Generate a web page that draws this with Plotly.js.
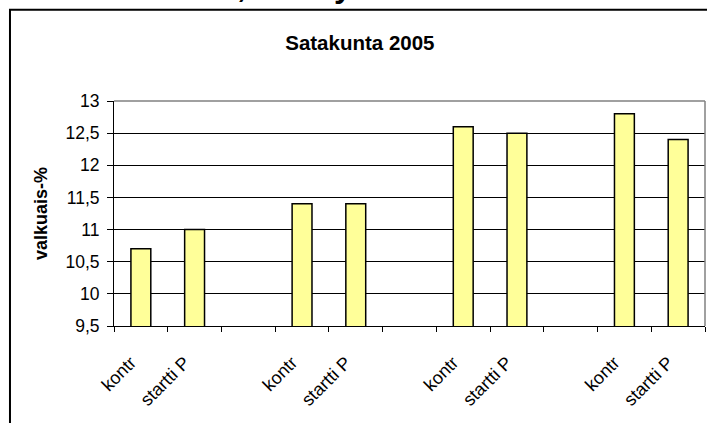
<!DOCTYPE html>
<html>
<head>
<meta charset="utf-8">
<script src="https://cdn.plot.ly/plotly-3.0.1.min.js"></script>
<style>html,body{margin:0;padding:0;background:#fff;}#chart{width:707px;height:423px;}</style>
</head>
<body>
<div id="chart"></div>
<script>
// Category slots (blank slots separate the groups)
var categories = ["kontr", "startti P", " ", "kontr ", "startti P ", "  ", "kontr  ", "startti P  ", "   ", "kontr   ", "startti P   "];
var values = [10.7, 11.0, null, 11.4, 11.4, null, 12.6, 12.5, null, 12.8, 12.4];
var tickLabels = ["kontr", "startti P", "", "kontr", "startti P", "", "kontr", "startti P", "", "kontr", "startti P"];
var yTicks = [9.5, 10, 10.5, 11, 11.5, 12, 12.5, 13];
var chartTitle = "Satakunta 2005";
var yTitle = "valkuais-%";

var trace = {
  type: "bar",
  x: categories,
  y: values,
  width: 0.37,
  marker: {color: "#FFFF99", line: {color: "#000000", width: 1.5}},
  hoverinfo: "skip"
};

var layout = {
  width: 707, height: 423,
  margin: {l: 114, r: 2, t: 101, b: 97},
  paper_bgcolor: "#ffffff",
  plot_bgcolor: "#ffffff",
  separators: ", ",
  showlegend: false,
  font: {family: "Liberation Sans, Arial, sans-serif", color: "#000"},
  title: {
    text: "<b>" + chartTitle + "</b>",
    font: {size: 20.5, family: "Liberation Sans, Arial, sans-serif", color: "#000"},
    xref: "container", x: 0.509, xanchor: "center",
    yref: "container", y: 0.898, yanchor: "middle"
  },
  xaxis: {
    type: "category",
    tickmode: "array",
    tickvals: categories,
    ticktext: tickLabels,
    tickangle: -45,
    tickson: "boundaries",
    ticks: "outside", ticklen: 5, tickcolor: "#000", tickwidth: 1,
    tickfont: {size: 18, color: "#000"},
    ticklabelstandoff: 18,
    ticklabelshift: -10,
    showline: true, linecolor: "#000", linewidth: 1,
    showgrid: false,
    range: [-0.5, 10.5],
    fixedrange: true
  },
  yaxis: {
    range: [9.5, 13],
    tickmode: "array",
    tickvals: yTicks,
    ticks: "outside", ticklen: 6, tickcolor: "#000",
    tickfont: {size: 17.5, color: "#000"},
    ticklabelstandoff: 4,
    showline: true, linecolor: "#000", linewidth: 1,
    showgrid: true, gridcolor: "#000", gridwidth: 1,
    zeroline: false,
    title: {text: "<b>" + yTitle + "</b>", font: {size: 18, color: "#000"}, standoff: 13},
    fixedrange: true
  },
  shapes: [
    {type: "line", xref: "paper", yref: "paper", x0: 0, x1: 1, y0: 1, y1: 1, line: {color: "#808080", width: 1.5}, layer: "above"},
    {type: "line", xref: "paper", yref: "paper", x0: 1, x1: 1, y0: 0, y1: 1, line: {color: "#808080", width: 1.5}, layer: "above"},
    {type: "rect", xref: "paper", yref: "paper", x0: -0.176, x1: 1.2, y0: -1, y1: 1.406, line: {color: "#000", width: 2}, fillcolor: "rgba(0,0,0,0)", layer: "above"}
  ],
  annotations: [
    {xref: "paper", yref: "paper", x: (241 - 114) / 591, y: 1.422, xanchor: "center", yanchor: "bottom", text: "<b>,</b>", showarrow: false, font: {size: 32, color: "#000"}},
    {xref: "paper", yref: "paper", x: (343 - 114) / 591, y: 1.422, xanchor: "center", yanchor: "bottom", text: "<b>y</b>", showarrow: false, font: {size: 32, color: "#000"}}
  ]
};

Plotly.newPlot("chart", [trace], layout, {displayModeBar: false, staticPlot: true});
</script>
</body>
</html>
